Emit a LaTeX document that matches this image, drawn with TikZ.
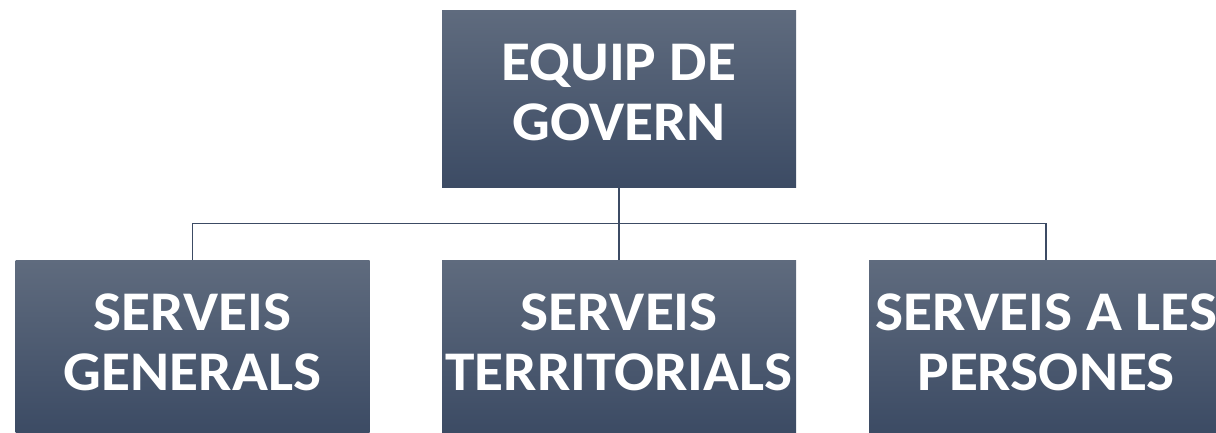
\documentclass[tikz,border=0pt]{standalone}
\usepackage{fontspec}
\setmainfont{Carlito}[FakeStretch=1.06]
\usetikzlibrary{calc}
\definecolor{boxtop}{HTML}{5F6B7E}
\definecolor{boxbot}{HTML}{3C4B64}
\definecolor{linec}{HTML}{3C4B64}
\tikzset{
  orgbox/.style={rectangle, inner sep=0pt, minimum width=354pt, minimum height=#1,
    top color=boxtop, bottom color=boxbot, draw=none, align=center, text=white,
    font=\fontsize{56}{60}\selectfont\bfseries},
  link/.style={draw=linec, line width=1.3pt}
}
\begin{document}
\begin{tikzpicture}[x=1pt,y=-1pt]
\useasboundingbox (0,0) rectangle (1216,432);
\node[orgbox=177pt, text depth=12pt] (top) at (619,98.5) {EQUIP DE\\GOVERN};
\node[orgbox=172pt, text depth=7pt] (gen) at (192.5,346) {SERVEIS\\GENERALS};
\node[orgbox=172pt, text depth=7pt] (ter) at (619,346) {SERVEIS\\TERRITORIALS};
\node[orgbox=172pt, text depth=7pt] (per) at (1046,346) {SERVEIS A LES\\PERSONES};
\coordinate (bus) at (619,223.5);
\draw[link] (top.south) -- (bus);
\draw[link] (bus) -| (gen.north);
\draw[link] (bus) -| (per.north);
\draw[link] (bus) -- (ter.north);
\end{tikzpicture}
\end{document}
